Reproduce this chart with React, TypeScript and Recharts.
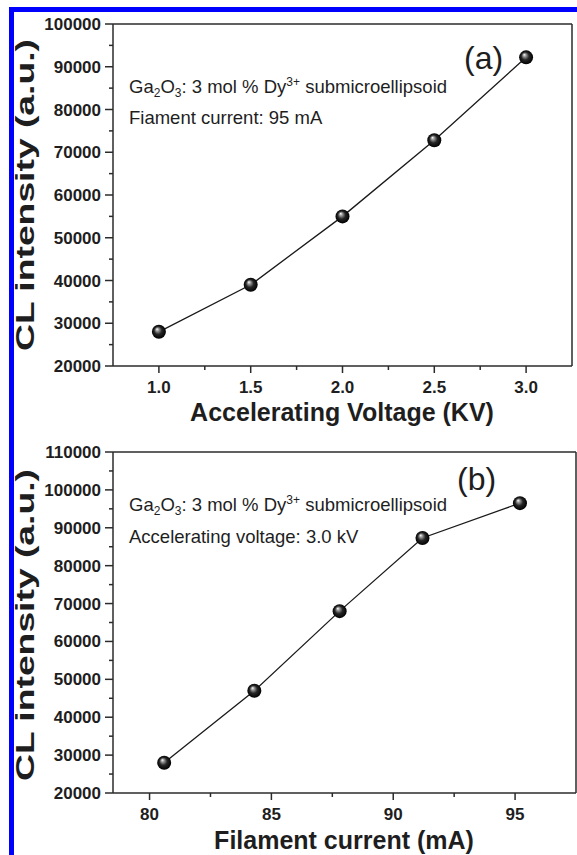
import React from 'react';
import { LineChart, Line, XAxis, YAxis, ReferenceLine } from 'recharts';

// ---- data (a) ----
const voltageKV = [1.0, 1.5, 2.0, 2.5, 3.0];
const intensityA = [28000, 39000, 55000, 72800, 92200];
// ---- data (b) ----
const currentMA = [80.6, 84.3, 87.8, 91.2, 95.2];
const intensityB = [28000, 47000, 68000, 87300, 96500];

// ---- ticks ----
const xTicksA = [1.0, 1.25, 1.5, 1.75, 2.0, 2.25, 2.5, 2.75, 3.0];
const xMajorA = [1.0, 1.5, 2.0, 2.5, 3.0];
const yTicksA = [20000, 25000, 30000, 35000, 40000, 45000, 50000, 55000, 60000, 65000, 70000, 75000, 80000, 85000, 90000, 95000, 100000];
const yMajorA = [20000, 30000, 40000, 50000, 60000, 70000, 80000, 90000, 100000];
const xTicksB = [80, 82.5, 85, 87.5, 90, 92.5, 95];
const xMajorB = [80, 85, 90, 95];
const yTicksB = [20000, 25000, 30000, 35000, 40000, 45000, 50000, 55000, 60000, 65000, 70000, 75000, 80000, 85000, 90000, 95000, 100000, 105000, 110000];
const yMajorB = [20000, 30000, 40000, 50000, 60000, 70000, 80000, 90000, 100000, 110000];

const dataA = voltageKV.map((x, i) => ({ x, y: intensityA[i] }));
const dataB = currentMA.map((x, i) => ({ x, y: intensityB[i] }));

const FONT = '"Liberation Sans", Arial, Helvetica, sans-serif';
const AX = '#2b2b2b';
const TXT = '#1e1e1e';

function XTick(props: any) {
  const { x, y, payload, majors, digits } = props;
  const v = payload.value;
  const major = majors.includes(v);
  return (
    <g>
      <line x1={x} x2={x} y1={y} y2={y + (major ? 7 : 4)} stroke={AX} strokeWidth={1.5} />
      {major && (
        <text x={x} y={y + 27} textAnchor="middle" fontFamily={FONT} fontWeight="bold" fontSize={17} fill={TXT}>
          {v.toFixed(digits)}
        </text>
      )}
    </g>
  );
}

function YTick(props: any) {
  const { x, y, payload, majors } = props;
  const v = payload.value;
  const major = majors.includes(v);
  return (
    <g>
      <line x1={x - (major ? 8 : 4)} x2={x} y1={y} y2={y} stroke={AX} strokeWidth={1.5} />
      {major && (
        <text x={x - 12} y={y + 6} textAnchor="end" fontFamily={FONT} fontWeight="bold" fontSize={17} fill={TXT}>
          {String(v)}
        </text>
      )}
    </g>
  );
}

function ballDot(gid: string) {
  return (p: any) => {
    if (p.cx == null || p.cy == null) return <g key={p.index} />;
    return <circle key={`d${p.index}`} cx={p.cx} cy={p.cy} r={7} fill={`url(#${gid})`} />;
  };
}

function Grad({ id }: { id: string }) {
  return (
    <defs>
      <radialGradient id={id} cx="0.5" cy="0.5" r="0.5" fx="0.36" fy="0.3">
        <stop offset="0" stopColor="#ffffff" />
        <stop offset="0.22" stopColor="#9a9a9a" />
        <stop offset="0.55" stopColor="#262626" />
        <stop offset="1" stopColor="#000000" />
      </radialGradient>
    </defs>
  );
}

function Formula({ x, y }: { x: number; y: number }) {
  return (
    <text x={x} y={y} fontFamily={FONT} fontSize={18.5} fill={TXT}>
      Ga<tspan fontSize={12} dy={4}>2</tspan>
      <tspan dy={-4}>O</tspan>
      <tspan fontSize={12} dy={4}>3</tspan>
      <tspan dy={-4}>: 3 mol % Dy</tspan>
      <tspan fontSize={12} dy={-7}>3+</tspan>
      <tspan dy={7}> submicroellipsoid</tspan>
    </text>
  );
}

function YTitle({ cy }: { cy: number }) {
  return (
    <text
      x={34}
      y={cy}
      transform={`rotate(-90 34 ${cy})`}
      textAnchor="middle"
      fontFamily={FONT}
      fontWeight="bold"
      fontSize={26}
      textLength={312}
      lengthAdjust="spacingAndGlyphs"
      fill={TXT}
    >
      CL intensity (a.u.)
    </text>
  );
}

export default function App() {
  return (
    <div style={{ position: 'absolute', left: 0, top: 0, width: 577, height: 855, background: '#fff', overflow: 'hidden' }}>
      {/* chart (a) */}
      <div style={{ position: 'absolute', left: 0, top: 0 }}>
        <LineChart width={577} height={440} data={dataA} margin={{ top: 24, right: 5, left: 0, bottom: 0 }}>
          <Grad id="ballA" />
          <XAxis
            dataKey="x"
            type="number"
            domain={[0.75, 3.25]}
            allowDataOverflow
            ticks={xTicksA}
            interval={0}
            height={74}
            tickSize={0}
            tickMargin={0}
            tickLine={false}
            axisLine={{ stroke: AX, strokeWidth: 1.5 }}
            tick={<XTick majors={xMajorA} digits={1} />}
          />
          <YAxis
            dataKey="y"
            type="number"
            domain={[20000, 100000]}
            allowDataOverflow
            ticks={yTicksA}
            interval={0}
            width={113}
            tickSize={0}
            tickMargin={0}
            tickLine={false}
            axisLine={{ stroke: AX, strokeWidth: 1.5 }}
            tick={<YTick majors={yMajorA} />}
          />
          <ReferenceLine y={100000} stroke={AX} strokeWidth={1.5} />
          <ReferenceLine x={3.25} stroke={AX} strokeWidth={1.5} />
          <Line dataKey="y" stroke="#1a1a1a" strokeWidth={1.3} isAnimationActive={false} dot={ballDot('ballA')} />
        </LineChart>
      </div>
      {/* chart (b) */}
      <div style={{ position: 'absolute', left: 0, top: 428 }}>
        <LineChart width={577} height={427} data={dataB} margin={{ top: 24, right: 1, left: 0, bottom: 0 }}>
          <Grad id="ballB" />
          <XAxis
            dataKey="x"
            type="number"
            domain={[78.5, 97.5]}
            allowDataOverflow
            ticks={xTicksB}
            interval={0}
            height={62}
            tickSize={0}
            tickMargin={0}
            tickLine={false}
            axisLine={{ stroke: AX, strokeWidth: 1.5 }}
            tick={<XTick majors={xMajorB} digits={0} />}
          />
          <YAxis
            dataKey="y"
            type="number"
            domain={[20000, 110000]}
            allowDataOverflow
            ticks={yTicksB}
            interval={0}
            width={113}
            tickSize={0}
            tickMargin={0}
            tickLine={false}
            axisLine={{ stroke: AX, strokeWidth: 1.5 }}
            tick={<YTick majors={yMajorB} />}
          />
          <ReferenceLine y={110000} stroke={AX} strokeWidth={1.5} />
          <ReferenceLine x={97.5} stroke={AX} strokeWidth={1.5} />
          <Line dataKey="y" stroke="#1a1a1a" strokeWidth={1.3} isAnimationActive={false} dot={ballDot('ballB')} />
        </LineChart>
      </div>

      {/* text overlay */}
      <svg width={577} height={855} style={{ position: 'absolute', left: 0, top: 0, pointerEvents: 'none' }}>
        <YTitle cy={195} />
        <YTitle cy={625} />
        <text x={342} y={421} textAnchor="middle" fontFamily={FONT} fontWeight="bold" fontSize={25} fill={TXT}>
          Accelerating Voltage (KV)
        </text>
        <text x={344} y={849} textAnchor="middle" fontFamily={FONT} fontWeight="bold" fontSize={25} fill={TXT}>
          Filament current (mA)
        </text>
        <text x={464} y={69} fontFamily={FONT} fontSize={32} fill={TXT}>(a)</text>
        <text x={457} y={490} fontFamily={FONT} fontSize={32} fill={TXT}>(b)</text>
        <Formula x={129} y={93} />
        <text x={129} y={124} fontFamily={FONT} fontSize={18.5} fill={TXT}>Fiament current: 95 mA</text>
        <Formula x={129} y={511} />
        <text x={129} y={543} fontFamily={FONT} fontSize={18.5} fill={TXT}>Accelerating voltage: 3.0 kV</text>
      </svg>

      {/* blue frame */}
      <div style={{ position: 'absolute', left: 9, top: 7, width: 5, height: 848, background: '#0000ff' }} />
      <div style={{ position: 'absolute', left: 9, top: 7, width: 568, height: 5, background: '#0000ff' }} />
    </div>
  );
}
